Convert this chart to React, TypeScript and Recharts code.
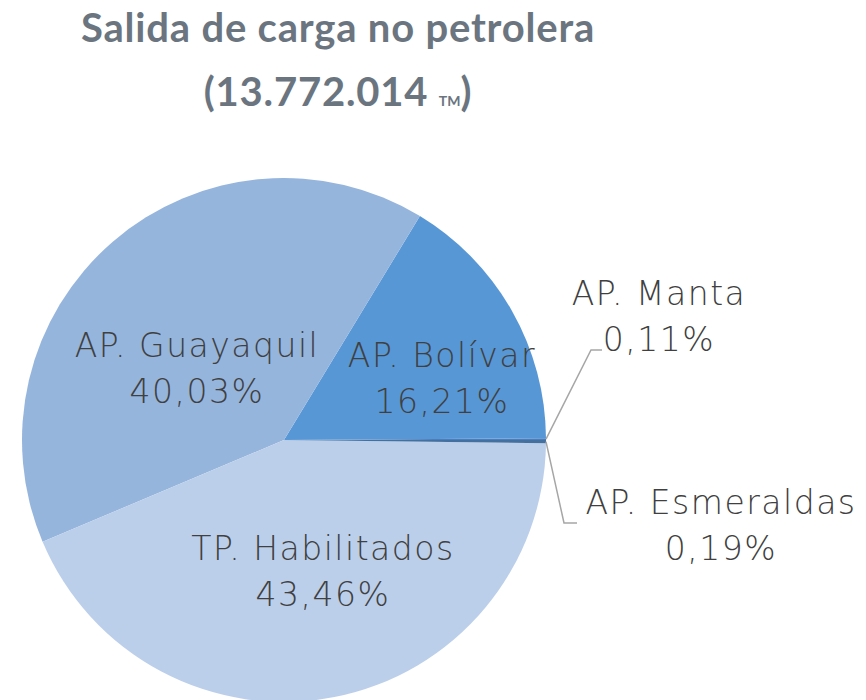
import { PieChart, Pie, Cell } from 'recharts'

const ports = ['AP. Manta', 'AP. Bolívar', 'AP. Guayaquil', 'TP. Habilitados', 'AP. Esmeraldas']
const shares = [0.11, 16.21, 40.03, 43.46, 0.19]
const colors = ['#4A7DBD', '#5797D5', '#95B5DD', '#BBCFEA', '#44709F']

const data = ports.map((name, i) => ({ name, value: shares[i] }))

// label block centres, relative to pie centre (Excel placed these by hand)
const labelPos = [
  { dx: 375, dy: -124 },
  { dx: 158, dy: -62 },
  { dx: -87, dy: -72 },
  { dx: 39, dy: 131 },
  { dx: 437, dy: 85 },
]
// leader line elbow + end for the tiny slices
const leaders: Record<number, number[][]> = {
  0: [[307, -90], [318, -90]],
  4: [[280, 83], [293, 83]],
}

const RAD = Math.PI / 180

function SliceLabel(props: any) {
  const { cx, cy, midAngle, outerRadius, index } = props
  const d = data[index]
  const p = labelPos[index]
  const x = cx + p.dx
  const y = cy + p.dy
  const pct = d.value.toFixed(2).replace('.', ',') + '%'
  const lead = leaders[index]
  let line = null
  if (lead) {
    const sx = cx + outerRadius * Math.cos(-midAngle * RAD)
    const sy = cy + outerRadius * Math.sin(-midAngle * RAD)
    const pts = [[sx, sy], ...lead.map(([a, b]) => [cx + a, cy + b])]
    line = <polyline points={pts.map(q => q.join(',')).join(' ')} fill="none" stroke="#A6A6A6" strokeWidth={1.5} />
  }
  return (
    <g>
      {line}
      <text x={x} y={y} textAnchor="middle" fill="#404040"
        style={{ fontFamily: '"DejaVu Sans", sans-serif', fontSize: 33, fontWeight: 200, letterSpacing: 1.5 }}>
        <tspan x={x} dy={-11}>{d.name}</tspan>
        <tspan x={x} dy={46}>{pct}</tspan>
      </text>
    </g>
  )
}

export default function App() {
  return (
    <div style={{ position: 'relative', width: 866, height: 700, background: '#fff' }}>
      <style>{'body{margin:0}'}</style>
      <div style={{
        position: 'absolute', left: 0, top: -5, width: 676, textAlign: 'center',
        fontFamily: 'Lato, sans-serif', fontWeight: 700, fontSize: 40, letterSpacing: 0.8,
        color: '#6B7580', lineHeight: '64px',
      }}>
        <div>Salida de carga no petrolera</div>
        <div>(13.772.014 <span style={{ fontSize: 14, letterSpacing: 0 }}>TM</span>)</div>
      </div>
      <PieChart width={866} height={700} margin={{ top: 0, right: 0, bottom: 0, left: 0 }}>
        <Pie
          data={data}
          dataKey="value"
          nameKey="name"
          cx={284}
          cy={440}
          outerRadius={262}
          startAngle={0}
          endAngle={360}
          stroke="none"
          label={SliceLabel}
          labelLine={false}
          isAnimationActive={false}
        >
          {data.map((d, i) => <Cell key={d.name} fill={colors[i]} />)}
        </Pie>
      </PieChart>
    </div>
  )
}
